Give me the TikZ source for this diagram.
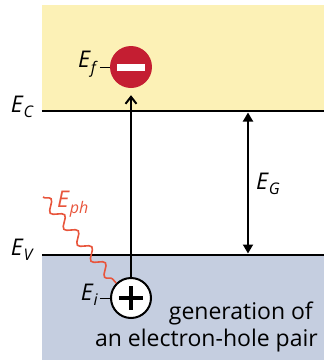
\documentclass[tikz,border=0pt]{standalone}
\usepackage{fontspec}
\setmainfont{Open Sans}
\usetikzlibrary{arrows.meta,decorations.pathmorphing}
\definecolor{cbyellow}{RGB}{252,241,182}
\definecolor{vbblue}{RGB}{197,206,224}
\definecolor{elred}{RGB}{196,30,50}
\definecolor{phred}{RGB}{232,85,60}
\tikzset{
  level/.style={line width=2.6pt},
  lbl/.style={font=\fontsize{23}{23}\selectfont, inner sep=0pt},
}
\newcommand{\En}[1]{\textit{E}\raisebox{-0.45ex}{\fontsize{16}{16}\selectfont\textit{#1}}}
\begin{document}
\begin{tikzpicture}[x=1pt,y=-1pt]
\useasboundingbox (0,0) rectangle (324,360);
\fill[cbyellow] (42,5) rectangle (324,111);
\fill[vbblue] (42,255) rectangle (324,360);
\coordinate (ecL) at (42,111);
\coordinate (ecR) at (324,111);
\coordinate (evL) at (42,255);
\coordinate (evR) at (324,255);
\draw[level] (ecL) -- (ecR);
\draw[level] (evL) -- (evR);
\node[lbl, anchor=east] (Ec) at (34,107) {\En{C}};
\node[lbl, anchor=east] (Ev) at (34,250) {\En{V}};
% gap arrow
\coordinate (gt) at (248,112.5);
\coordinate (gb) at (248,253.5);
\draw[line width=1.8pt, {Triangle[length=9pt,width=10pt]}-{Triangle[length=9pt,width=10pt]}] (gt) -- (gb);
\node[lbl, anchor=west] (EG) at (256,184) {\En{G}};
% electron
\node[circle, fill=elred, minimum size=42pt, inner sep=0pt] (el) at (131,67) {};
\fill[white] (117,63.5) rectangle (145,70.5);
% hole
\node[circle, draw=black, line width=2pt, fill=white, minimum size=40pt, inner sep=0pt] (ho) at (131,298) {};
\draw[line width=4.5pt] (119,298) -- (143,298);
\draw[line width=4.5pt] (131,286) -- (131,310);
% excitation arrow
\draw[line width=2pt, -{Straight Barb[length=7pt,width=11pt,line width=2pt]}] (ho.north) -- ([yshift=-7pt]el.south);
% labels Ef, Ei
\node[lbl, anchor=east] (Ef) at (98,64) {\En{f}};
\draw[line width=1pt] (Ef.east |- el.west) ++(2,0) -- (el.west);
\node[lbl, anchor=east] (Ei) at (98,295) {\En{i}};
\draw[line width=1pt] (Ei.east |- ho.west) ++(2,0) -- (ho.west);
% photon
\coordinate (ph0) at (43,197);
\draw[phred, line width=1.6pt, decorate, decoration={snake, amplitude=5pt, segment length=21pt, post length=2pt}] (ph0) -- (ho.north west);
\node[lbl, text=phred, anchor=west] (Eph) at (57,204) {\En{ph}};
% text
\node[font=\fontsize{23}{23}\selectfont, anchor=east, inner sep=0pt] (t1) at (313,313) {generation of};
\node[font=\fontsize{23}{23}\selectfont, anchor=east, inner sep=0pt] (t2) at (318,341) {an electron-hole pair};
\end{tikzpicture}
\end{document}
